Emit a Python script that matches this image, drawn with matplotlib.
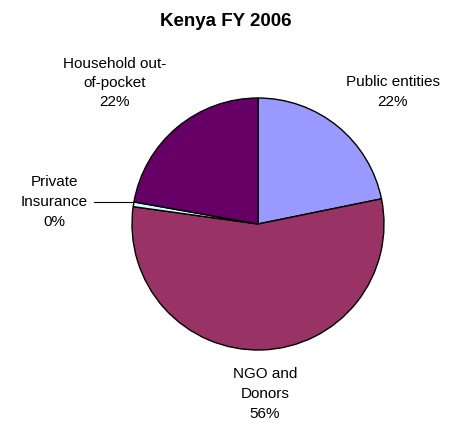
import matplotlib.pyplot as plt

plt.rcParams['font.family'] = ['Liberation Sans', 'DejaVu Sans']

# Kenya FY 2006 health financing shares
labels = ["Public entities", "NGO and\nDonors", "Private\nInsurance", "Household out-\nof-pocket"]
shares = [21.8, 55.4, 0.6, 22.2]
pct_text = ["22%", "56%", "0%", "22%"]
colors = ["#9999FF", "#993366", "#CCFFFF", "#660066"]

W, H = 451, 428
fig = plt.figure(figsize=(W / 100, H / 100), dpi=100)

# pie centre and radius in pixels
cx, cy, r = 258, 224, 126
ax = fig.add_axes([(cx - r) / W, 1 - (cy + r) / H, 2 * r / W, 2 * r / H])
ax.pie(shares, colors=colors, startangle=90, counterclock=False,
       wedgeprops=dict(edgecolor="black", linewidth=1.0))
ax.set_xlim(-1, 1)
ax.set_ylim(-1, 1)
ax.set_aspect("auto")
ax.axis("off")

fig.text(0.5, 1 - 22 / H, "Kenya FY 2006", ha="center", va="center",
         fontsize=13.5, fontweight="bold")

# label centres in pixels (Excel style placement)
label_pos = [(393, 92), (265, 394), (54, 202), (115, 83)]
for lab, pct, (px, py) in zip(labels, pct_text, label_pos):
    fig.text(px / W, 1 - py / H, lab + "\n" + pct, ha="center", va="center",
             fontsize=11, linespacing=1.5)

# leader line for the tiny slice
fig.add_artist(plt.Line2D([94 / W, 133 / W], [1 - 202 / H, 1 - 202 / H],
                          color="black", linewidth=0.8))

fig.savefig("out.png", dpi=100)
